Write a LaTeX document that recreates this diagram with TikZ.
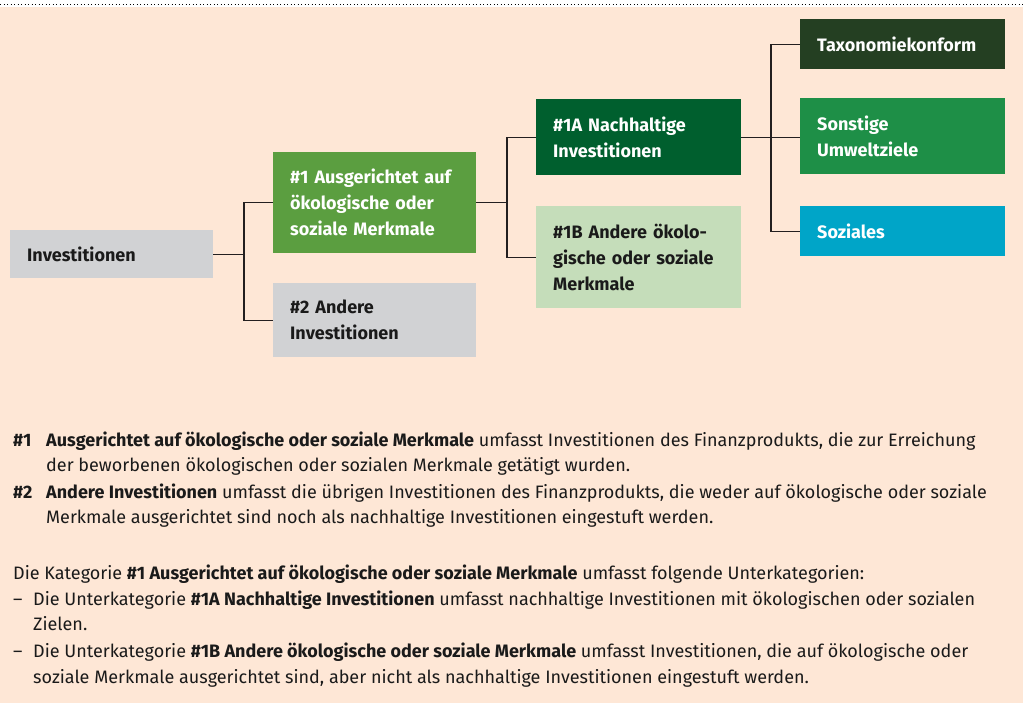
\documentclass[tikz,border=0pt]{standalone}
\usepackage{fontspec}
\setmainfont{Fira Sans}
\usepackage{tikz}
\usetikzlibrary{positioning}

\definecolor{peach}{HTML}{FEE7D6}
\definecolor{greybox}{HTML}{D1D2D4}
\definecolor{midgreen}{HTML}{5B9E40}
\definecolor{darkgreen}{HTML}{005F2E}
\definecolor{lightgreen}{HTML}{C5DDBA}
\definecolor{deepgreen}{HTML}{243F22}
\definecolor{envgreen}{HTML}{1E8F47}
\definecolor{socialblue}{HTML}{00A5C8}
\definecolor{linecol}{HTML}{231F20}
\definecolor{textcol}{HTML}{1A1A1A}

\tikzset{
    catbox/.style={anchor=north west, inner xsep=17pt, inner ysep=0pt, align=left,
        font=\fontsize{18}{26}\selectfont\bfseries},
    darktext/.style={catbox, text=textcol},
    lighttext/.style={catbox, text=white},
    link/.style={draw=linecol, line width=1.2pt},
    expl/.style={anchor=base west, inner sep=0pt, text=textcol,
        font=\fontsize{18}{25}\selectfont}
}

\begin{document}
\begin{tikzpicture}[x=1pt, y=-1pt]
    % background panel
    \useasboundingbox (0,0) rectangle (1028,703);
    \fill[peach] (0,7) rectangle (1023,703);
    \draw[line width=1pt, dash pattern=on 1pt off 2.5pt] (0,5) -- (1023,5);

    % first level
    \node[darktext, fill=greybox, text width=169pt, minimum height=48pt] (inv) at (10,230) {Investitionen};
    \node[lighttext, fill=midgreen, text width=169pt, minimum height=101pt] (cat1) at (273,152)
        {\#1 Ausgerichtet auf\\ökologische oder\\soziale Merkmale};
    \node[darktext, fill=greybox, text width=169pt, minimum height=74pt] (cat2) at (273,283)
        {\#2 Andere\\Investitionen};

    % second level
    \node[lighttext, fill=darkgreen, text width=171pt, minimum height=76pt] (cat1a) at (536,99)
        {\#1A Nachhaltige\\Investitionen};
    \node[darktext, fill=lightgreen, text width=171pt, minimum height=102pt] (cat1b) at (536,206)
        {\#1B Andere ökolo-\\gische oder soziale\\Merkmale};

    % third level
    \node[lighttext, fill=deepgreen, text width=171pt, minimum height=50pt] (tax) at (800,19) {Taxonomiekonform};
    \node[lighttext, fill=envgreen, text width=171pt, minimum height=76pt] (env) at (800,98)
        {Sonstige\\Umweltziele};
    \node[lighttext, fill=socialblue, text width=171pt, minimum height=50pt] (soc) at (800,206) {Soziales};

    % connectors
    \draw[link] (inv.east) -- ++(31,0);
    \draw[link] (cat1.west) -- ++(-29,0) |- (cat2.west);
    \draw[link] (cat1.east) -- ++(31,0);
    \draw[link] (cat1a.west) -- ++(-29,0) |- (cat1b.west);
    \draw[link] (cat1a.east) -- (cat1a.east -| env.west);
    \draw[link] (tax.west) -- ++(-29,0) |- (soc.west);

    % explanations
    \node[expl] (n1) at (13,446) {\textbf{\#1}};
    \node[expl] (t1) at (46,446) {\textbf{Ausgerichtet auf ökologische oder soziale Merkmale} umfasst Investitionen des Finanzprodukts, die zur Erreichung};
    \node[expl] (t1b) at (46,471) {der beworbenen ökologischen oder sozialen Merkmale getätigt wurden.};
    \node[expl] (n2) at (13,498) {\textbf{\#2}};
    \node[expl] (t2) at (46,498) {\textbf{Andere Investitionen} umfasst die übrigen Investitionen des Finanzprodukts, die weder auf ökologische oder soziale};
    \node[expl] (t2b) at (46,523) {Merkmale ausgerichtet sind noch als nachhaltige Investitionen eingestuft werden.};

    \node[expl] (k0) at (13,579) {Die Kategorie \textbf{\#1 Ausgerichtet auf ökologische oder soziale Merkmale} umfasst folgende Unterkategorien:};
    \node[expl] (d1) at (13,605) {–};
    \node[expl] (k1) at (33,605) {Die Unterkategorie \textbf{\#1A Nachhaltige Investitionen} umfasst nachhaltige Investitionen mit ökologischen oder sozialen};
    \node[expl] (k1b) at (33,630) {Zielen.};
    \node[expl] (d2) at (13,657) {–};
    \node[expl] (k2) at (33,657) {Die Unterkategorie \textbf{\#1B Andere ökologische oder soziale Merkmale} umfasst Investitionen, die auf ökologische oder};
    \node[expl] (k2b) at (33,683) {soziale Merkmale ausgerichtet sind, aber nicht als nachhaltige Investitionen eingestuft werden.};
\end{tikzpicture}
\end{document}
